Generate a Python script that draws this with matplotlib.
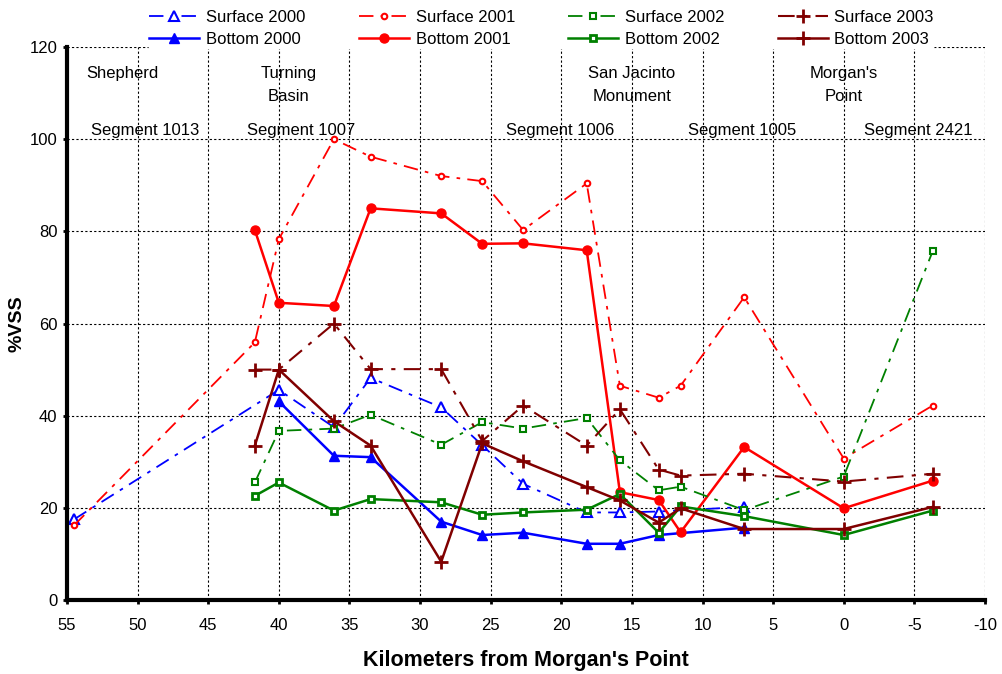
import matplotlib

matplotlib.use("Agg")
import matplotlib.pyplot as plt
import numpy as np

plt.rcParams["font.family"] = ["Liberation Sans", "DejaVu Sans"]
plt.rcParams["axes.unicode_minus"] = False

# Sampling stations, km upstream of Morgan's Point (negative = bay side)
km = [54.5, 41.7, 40.0, 36.1, 33.5, 28.5, 25.6, 22.7, 18.2, 15.85, 13.1, 11.55, 7.05, 0.0, -6.3]
nan = np.nan

surface_2000 = [17.5, nan, 45.6, 37.5, 48.2, 41.8, 33.6, 25.2, 19.0, 19.0, 19.2, nan, 20.2, nan, nan]
bottom_2000 = [nan, nan, 43.1, 31.3, 31.0, 17.0, 14.1, 14.6, 12.2, 12.2, 14.1, nan, 15.7, nan, nan]
surface_2001 = [16.2, 55.9, 78.3, 100.0, 96.2, 92.0, 90.9, 80.3, 90.4, 46.5, 43.9, 46.5, 65.7, 30.7, 42.2]
bottom_2001 = [nan, 80.3, 64.5, 63.8, 85.0, 83.9, 77.3, 77.4, 75.9, 23.4, 21.7, 14.7, 33.2, 19.9, 25.9]
surface_2002 = [nan, 25.5, 36.7, 37.2, 40.2, 33.7, 38.6, 37.2, 39.5, 30.3, 23.8, 24.6, 19.5, 26.8, 75.7]
bottom_2002 = [nan, 22.6, 25.5, 19.4, 21.9, 21.2, 18.5, 19.0, 19.6, 23.0, 14.6, 20.3, 18.2, 14.1, 19.4]
surface_2003 = [nan, 50.0, 50.0, 60.0, 50.1, 50.1, 34.5, 42.2, 33.5, 41.4, 28.3, 27.0, 27.4, 25.7, 27.4]
bottom_2003 = [nan, 33.5, 50.0, 38.8, 33.5, 8.3, 34.0, 30.1, 24.5, 21.6, 16.8, 19.9, 15.4, 15.4, 20.2]

# Landmarks and segment labels along the channel
landmarks = ["Shepherd", "Turning\nBasin", "San Jacinto\nMonument", "Morgan's\nPoint"]
landmark_km = [51.1, 39.3, 15.0, 0.0]
segments = ["Segment 1013", "Segment 1007", "Segment 1006", "Segment 1005", "Segment 2421"]
segment_km = [49.5, 38.4, 20.1, 7.2, -5.3]

dashdot = (0, (8, 4, 2, 4))
series = [
    ("Surface 2000", surface_2000, dict(color="#0000ff", ls=dashdot, lw=1.3, marker="^", ms=7, mfc="white", mew=1.5)),
    ("Bottom 2000", bottom_2000, dict(color="#0000ff", ls="-", lw=1.8, marker="^", ms=7)),
    ("Surface 2001", surface_2001, dict(color="#ff0000", ls=dashdot, lw=1.3, marker="o", ms=4, mfc="white", mew=1.5)),
    ("Bottom 2001", bottom_2001, dict(color="#ff0000", ls="-", lw=1.8, marker="o", ms=6.5)),
    ("Surface 2002", surface_2002, dict(color="#008000", ls=dashdot, lw=1.3, marker="s", ms=5, mfc="white", mew=1.5)),
    ("Bottom 2002", bottom_2002, dict(color="#008000", ls="-", lw=1.8, marker="s", ms=5, mfc="white", mew=2)),
    ("Surface 2003", surface_2003, dict(color="#800000", ls=dashdot, lw=1.5, marker="+", ms=10, mew=2)),
    ("Bottom 2003", bottom_2003, dict(color="#800000", ls="-", lw=1.8, marker="+", ms=10, mew=2)),
]

fig = plt.figure(figsize=(10.03, 6.74), dpi=100)
ax = fig.add_axes([0.0668, 0.1098, 0.9152, 0.8204])

x = np.asarray(km)
for label, vals, style in series:
    y = np.asarray(vals, dtype=float)
    ok = ~np.isnan(y)
    ax.plot(x[ok], y[ok], label=label, **style)

ax.set_xlim(55, -10)
ax.set_ylim(0, 120)
ax.set_xticks(np.arange(55, -11, -5))
ax.set_yticks(np.arange(0, 121, 20))
ax.grid(True, color="black", ls=(0, (2, 2)), lw=0.8)
ax.set_axisbelow(True)

for side in ("top", "right"):
    ax.spines[side].set_visible(False)
for side in ("left", "bottom"):
    ax.spines[side].set_linewidth(3)
ax.tick_params(axis="both", direction="out", length=3, width=2, labelsize=12)
ax.tick_params(axis="x", pad=10)
ax.tick_params(axis="y", pad=4)

ax.set_xlabel("Kilometers from Morgan's Point", fontsize=15.5, fontweight="bold", labelpad=12)
ax.set_ylabel("%VSS", fontsize=14, fontweight="bold")
ax.yaxis.set_label_coords(-0.045, 0.5)

for name, k in zip(landmarks, landmark_km):
    ax.text(k, 115.8, name, ha="center", va="top", fontsize=12, linespacing=1.6)
for name, k in zip(segments, segment_km):
    ax.text(k, 100.3, name, ha="center", va="bottom", fontsize=12)

leg = fig.legend(loc="center", bbox_to_anchor=(0.54, 0.958), ncol=4, frameon=True,
                 fontsize=12, handlelength=3.0, handletextpad=0.4, columnspacing=3.2,
                 labelspacing=0.45, borderpad=0.1)
leg.get_frame().set_edgecolor("none")
leg.get_frame().set_facecolor("white")
leg.get_frame().set_alpha(1)

fig.savefig("out.png", dpi=100)
